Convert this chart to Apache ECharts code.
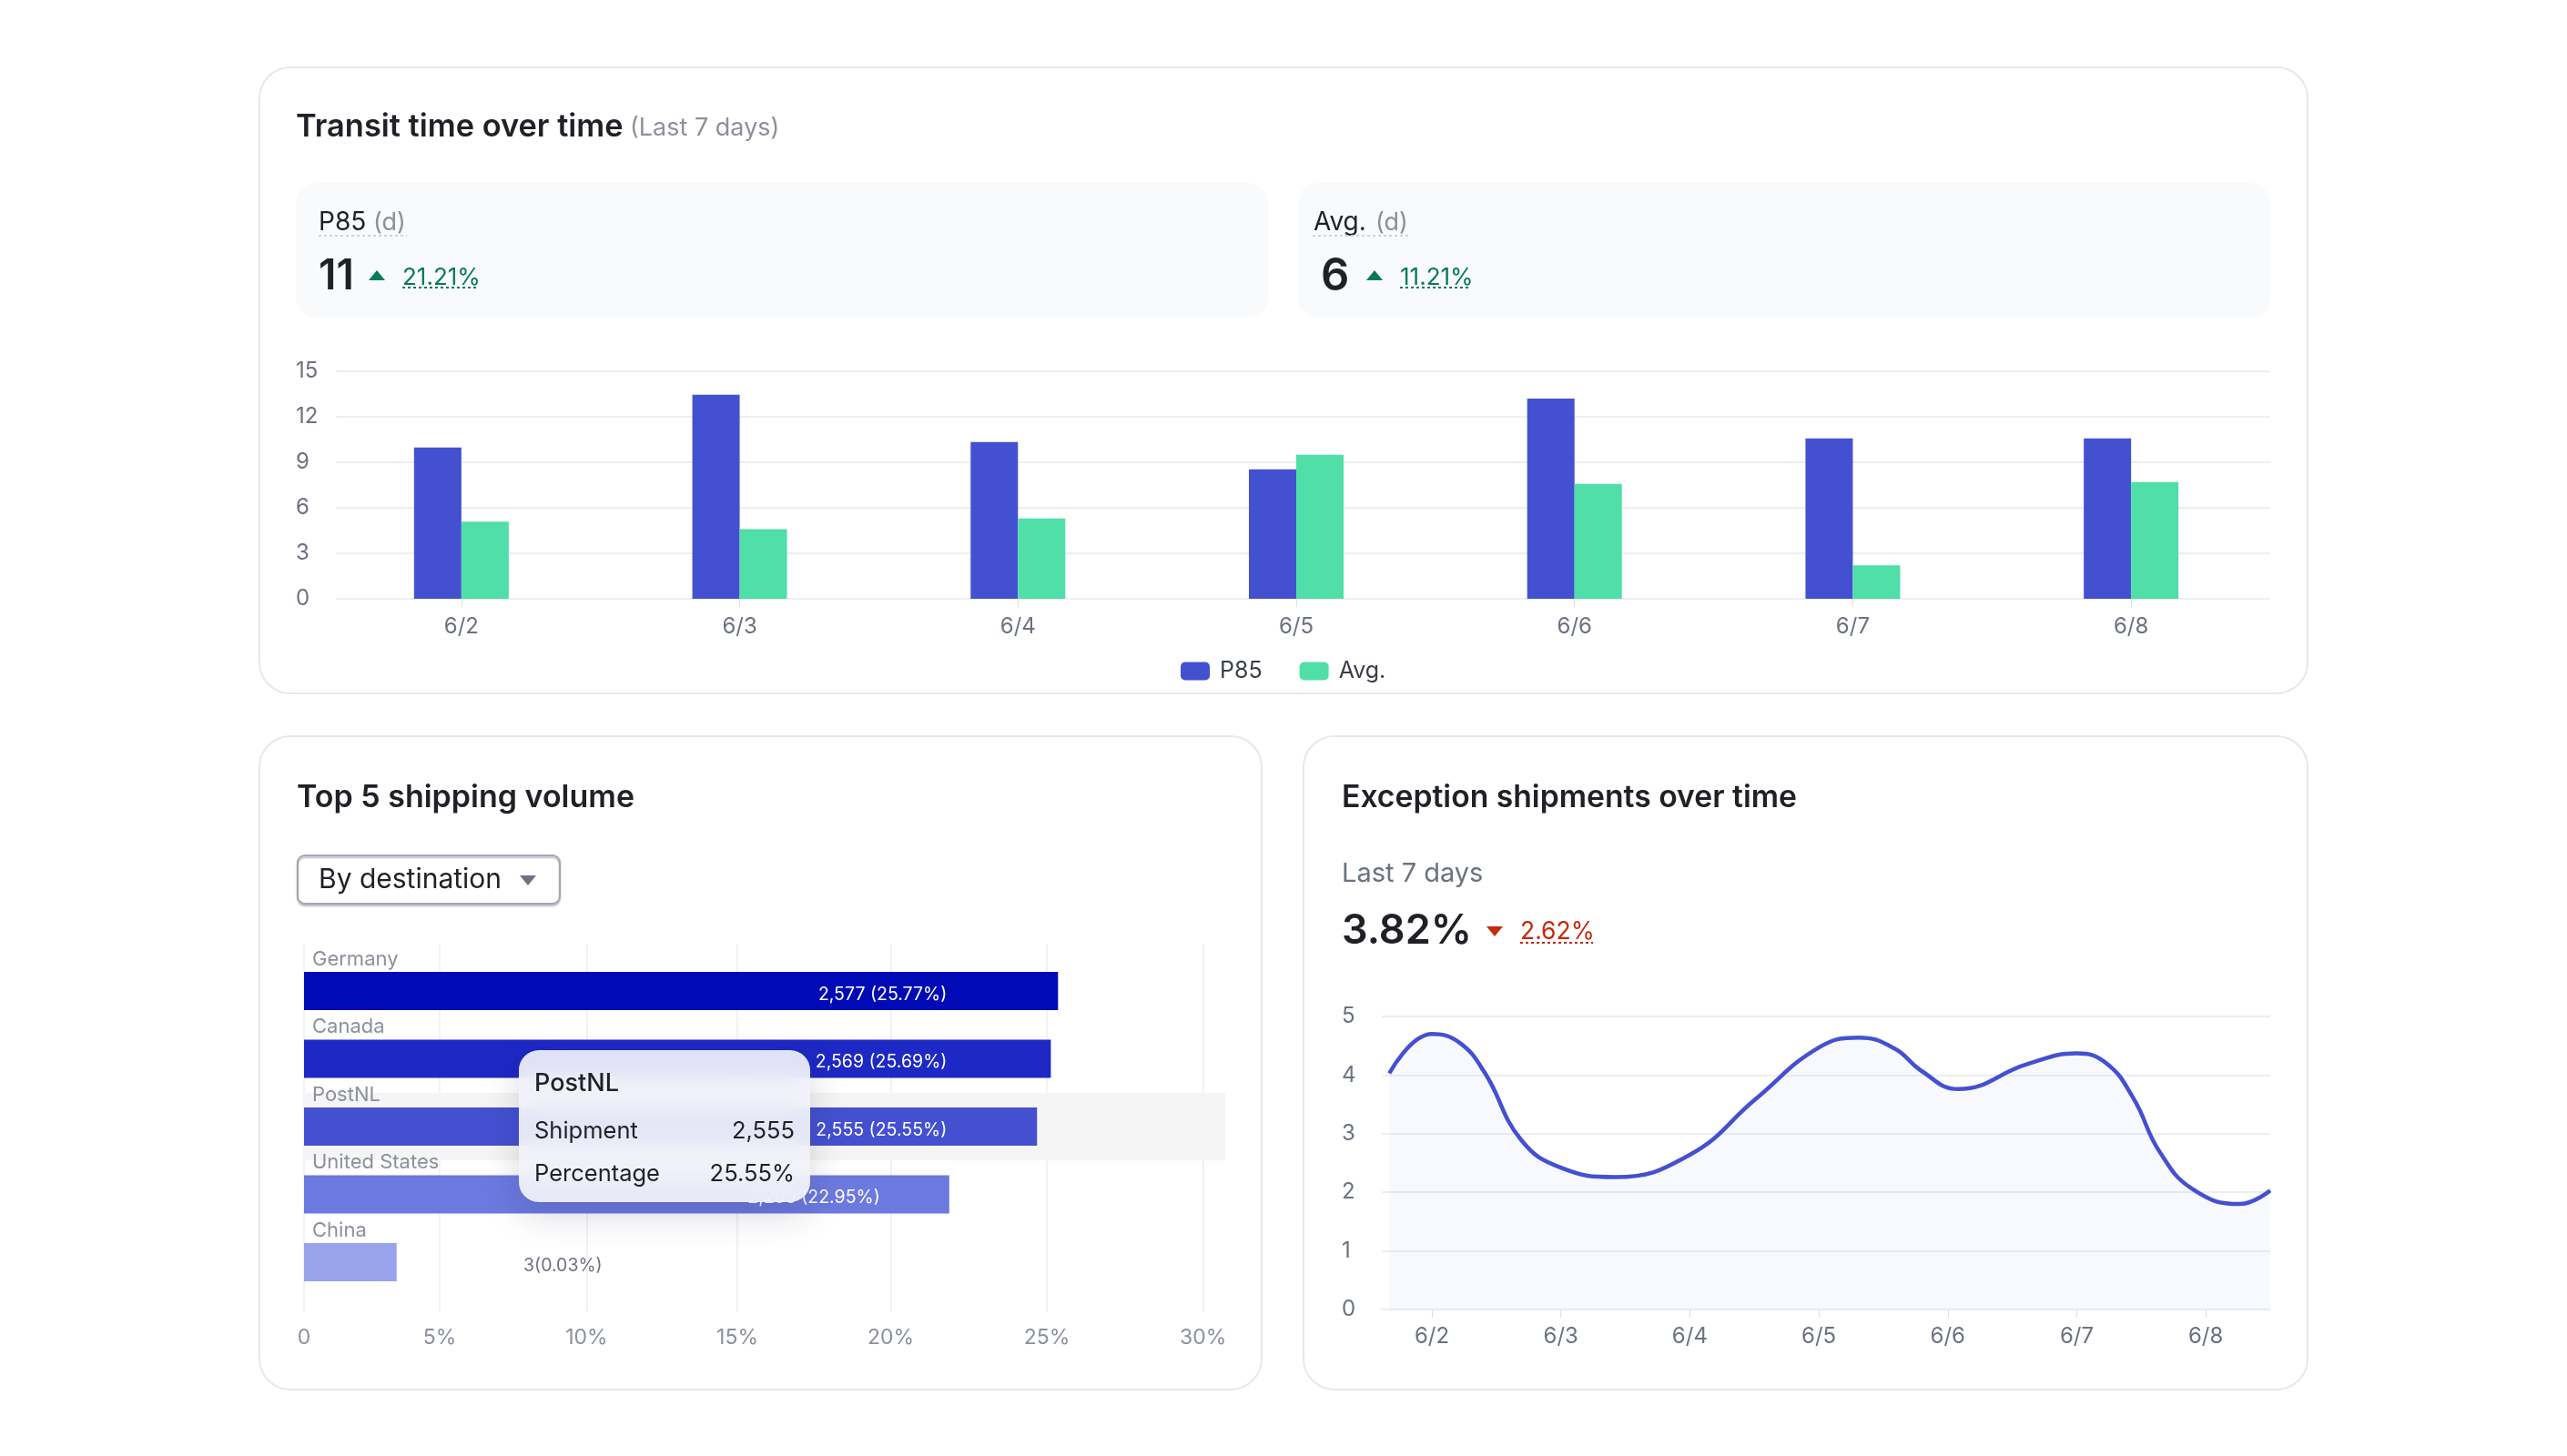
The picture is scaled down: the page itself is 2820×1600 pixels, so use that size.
<!DOCTYPE html>
<html>
<head>
<meta charset="utf-8">
<style>
  html, body { margin: 0; padding: 0; background: #fff; }
  #chart { width: 2820px; height: 1600px; }
</style>
</head>
<body>
<div id="chart"></div>
<script src="https://cdn.jsdelivr.net/npm/echarts@6/dist/echarts.min.js"></script>
<script>
var days = ['6/2', '6/3', '6/4', '6/5', '6/6', '6/7', '6/8'];

// Transit time
var p85Values = [9.97, 13.46, 10.33, 8.54, 13.2, 10.58, 10.58];
var avgValues = [5.08, 4.59, 5.3, 9.5, 7.58, 2.2, 7.69];

// Shipping volume, lengths are as drawn on the axis
var destinations = ['Germany', 'Canada', 'PostNL', 'United States', 'China'];
var barLengths = [25.16, 24.92, 24.46, 21.53, 3.09];
var barLabels = ['2,577 (25.77%)', '2,569 (25.69%)', '2,555 (25.55%)', '2,295 (22.95%)', '3(0.03%)'];
var shipments = ['2,577', '2,569', '2,555', '2,295', '3'];
var percentages = ['25.77%', '25.69%', '25.55%', '22.95%', '0.03%'];
var volumeTicks = [0, 4.53, 9.43, 14.46, 19.58, 24.79, 30];
var volumeTickLabels = ['0', '5%', '10%', '15%', '20%', '25%', '30%'];

// Exception shipments: day of June, rate
var exceptionDays = [1.67, 2, 2.21, 2.41, 2.69, 3, 3.42, 4, 4.51, 5, 5.31, 5.59, 5.79, 6.08, 6.62, 7, 7.23, 7.44, 7.64, 7.9, 8.26, 8.5];
var exceptionRates = [4.03, 4.7, 4.56, 4.04, 2.9, 2.42, 2.26, 2.64, 3.59, 4.47, 4.64, 4.45, 4.08, 3.76, 4.19, 4.37, 4.2, 3.6, 2.7, 2.05, 1.8, 2.03];
var exceptionTicks = [2, 3, 4, 5, 6, 7, 8];

var FONT = 'Inter';
var BLUE = '#4351d0';
var GREEN = '#50dea9';
var GREEN_DARK = '#067a5b';
var RED = '#c42a0c';
var INK = '#1f2126';
var GRAY = '#6b7280';
var SOFT = '#8b909b';
var LINE = '#eceef1';

var barColors = ['#000ab5', '#1e28c4', '#4450d0', '#6c79df', '#98a3ec'];
var barLabelColors = ['#fff', '#fff', '#fff', '#fff', GRAY];
var barLabelOffsets = [-122, -114, -99, -76, 226];

function text(x, y, str, size, fill, weight, align) {
  return {
    type: 'text', x: x, y: y, z: 20,
    style: {
      text: str, fontFamily: FONT, fontSize: size, fontWeight: weight || 400,
      fill: fill, align: align || 'left', verticalAlign: 'middle'
    }
  };
}
function card(x, y, w, h) {
  return {
    type: 'rect', z: -10,
    shape: { x: x, y: y, width: w, height: h, r: 34 },
    style: { fill: '#fff', stroke: '#e6e8ec', lineWidth: 2 }
  };
}
function panel(x, y, w, h) {
  return {
    type: 'rect', z: -9,
    shape: { x: x, y: y, width: w, height: h, r: 22 },
    style: { fill: '#f9fafb' }
  };
}
function dotted(x1, x2, y, color) {
  return {
    type: 'line', z: 20,
    shape: { x1: x1, y1: y, x2: x2, y2: y },
    style: { stroke: color, lineWidth: 2, lineDash: [3, 3] }
  };
}
function triangle(p1, p2, p3, color) {
  return { type: 'polygon', z: 20, shape: { points: [p1, p2, p3] }, style: { fill: color } };
}

var graphics = [
  card(285, 74, 2250, 688),
  card(285, 809, 1101, 718),
  card(1432, 809, 1103, 718),
  panel(325, 201, 1068, 148),
  panel(1426, 201, 1068, 148),

  text(325, 140, 'Transit time over time', 34.4, INK, 600),
  text(692, 141, '(Last 7 days)', 27, SOFT),

  text(350, 245, 'P85', 28, INK),
  text(410, 245, '(d)', 27, SOFT),
  dotted(350, 447, 259, '#cfd2d8'),
  text(350, 304, '11', 46, INK, 600),
  triangle([414, 297], [423, 308], [405, 308], GREEN_DARK),
  text(442, 305, '21.21%', 26, GREEN_DARK),
  dotted(442, 524, 316, GREEN_DARK),

  text(1443, 245, 'Avg.', 28, INK),
  text(1511, 245, '(d)', 27, SOFT),
  dotted(1442, 1550, 259, '#cfd2d8'),
  text(1451, 304, '6', 49, INK, 600),
  triangle([1510, 297], [1519, 308], [1501, 308], GREEN_DARK),
  text(1538, 305, '11.21%', 26, GREEN_DARK),
  dotted(1538, 1613, 316, GREEN_DARK),

  text(326, 877, 'Top 5 shipping volume', 34, INK, 600),
  {
    type: 'rect', z: -5,
    shape: { x: 327, y: 940, width: 288, height: 53, r: 8 },
    style: { fill: '#fff', stroke: '#a3a8b1', lineWidth: 2, shadowBlur: 2, shadowOffsetY: 2, shadowColor: '#b8bcc4' }
  },
  text(350, 967, 'By destination', 30, INK),
  triangle([571, 962], [589, 962], [580, 973], GRAY),

  text(1474, 877, 'Exception shipments over time', 33.7, INK, 600),
  text(1474, 960, 'Last 7 days', 29, GRAY),
  text(1474, 1023, '3.82%', 45, INK, 600),
  triangle([1633, 1018], [1651, 1018], [1642, 1029], RED),
  text(1670, 1024, '2.62%', 26.5, RED),
  dotted(1670, 1750, 1036, RED)
];

var chart = echarts.init(document.getElementById('chart'));

var option = {
  animation: false,
  backgroundColor: '#fff',
  textStyle: { fontFamily: FONT },
  graphic: graphics,
  legend: {
    left: 1292, top: 720, itemWidth: 32, itemHeight: 20, itemGap: 41, icon: 'roundRect',
    data: ['P85', 'Avg.'],
    textStyle: { fontSize: 25, color: '#3a3f47', padding: [0, 0, 0, 6] }
  },
  tooltip: {
    trigger: 'axis',
    triggerOn: 'none',
    alwaysShowContent: true,
    transitionDuration: 0,
    axisPointer: { type: 'shadow', z: 0, shadowStyle: { color: '#f5f5f5', opacity: 1 } },
    position: [570, 1154],
    padding: 0,
    borderWidth: 0,
    backgroundColor: 'transparent',
    extraCssText: 'box-shadow:none;',
    formatter: function (params) {
      var i = params[0].dataIndex;
      return '<div style="width:320px;height:167px;box-sizing:border-box;padding:20px 17px;border-radius:22px;' +
        'background:rgba(244,245,250,.9);backdrop-filter:blur(14px);box-shadow:0 14px 40px rgba(20,24,60,.16);' +
        'font-family:' + FONT + ';color:' + INK + ';font-size:25.5px;line-height:47px;">' +
        '<div style="font-size:27px;font-weight:500;line-height:32px;margin-bottom:12px;">' + destinations[i] + '</div>' +
        '<div style="display:flex;justify-content:space-between;"><span>Shipment</span><span>' + shipments[i] + '</span></div>' +
        '<div style="display:flex;justify-content:space-between;"><span>Percentage</span><span>' + percentages[i] + '</span></div>' +
        '</div>';
    }
  },
  grid: [
    { left: 354, right: 326, top: 408, height: 250 },   // transit bars
    { left: 369, right: 326, top: 408, height: 250 },   // transit gridlines
    { left: 334, width: 1012, top: 1037, height: 405 }, // volume gridlines
    { left: 334, width: 1012, top: 1051.75, height: 372.5 }, // volume bars
    { left: 1518, right: 326, top: 1117, height: 322 }  // exceptions
  ],
  xAxis: [
    {
      gridIndex: 0, type: 'category', data: days,
      axisLine: { show: false },
      axisTick: { show: true, alignWithLabel: true, length: 9, lineStyle: { color: '#dcdfe4' } },
      axisLabel: { color: GRAY, fontSize: 24, margin: 19 }
    },
    { gridIndex: 1, type: 'value', show: false, min: 0, max: 1, splitLine: { show: false } },
    {
      gridIndex: 2, type: 'value', min: 0, max: 30.74,
      axisPointer: { show: false },
      axisLine: { show: false },
      axisTick: { show: false, customValues: volumeTicks },
      axisLabel: {
        customValues: volumeTicks, color: SOFT, fontSize: 23, margin: 17, showMinLabel: true, showMaxLabel: true,
        formatter: function (v) { return volumeTickLabels[volumeTicks.indexOf(v)]; }
      },
      splitLine: { show: true, lineStyle: { color: LINE, width: 1.5 } }
    },
    { gridIndex: 3, type: 'value', show: false, min: 0, max: 30.74, axisPointer: { show: false }, splitLine: { show: false } },
    {
      gridIndex: 4, type: 'value', min: 1.612, max: 8.5,
      axisLine: { show: true, lineStyle: { color: LINE, width: 2 } },
      axisTick: { show: true, customValues: exceptionTicks, length: 9, lineStyle: { color: '#dcdfe4' } },
      axisLabel: {
        customValues: exceptionTicks, color: GRAY, fontSize: 24, margin: 18,
        formatter: function (v) { return days[exceptionTicks.indexOf(v)]; }
      },
      splitLine: { show: false }
    }
  ],
  yAxis: [
    { gridIndex: 0, type: 'value', show: false, min: 0, max: 15, splitLine: { show: false } },
    {
      gridIndex: 1, type: 'value', min: 0, max: 15, interval: 3,
      axisLine: { show: false }, axisTick: { show: false },
      axisLabel: { color: GRAY, fontSize: 24, margin: 44, align: 'left' },
      splitLine: { lineStyle: { color: LINE, width: 2 } }
    },
    { gridIndex: 2, type: 'value', show: false, min: 0, max: 1, axisPointer: { show: false }, splitLine: { show: false } },
    {
      gridIndex: 3, type: 'category', inverse: true, data: destinations,
      axisLine: { show: false }, axisTick: { show: false },
      axisLabel: {
        inside: true, margin: 9, color: SOFT, fontSize: 22,
        verticalAlign: 'bottom', padding: [0, 0, 24, 0]
      }
    },
    {
      gridIndex: 4, type: 'value', min: 0, max: 5, interval: 1,
      axisLine: { show: false }, axisTick: { show: false },
      axisLabel: { color: GRAY, fontSize: 24, margin: 44, align: 'left' },
      splitLine: { lineStyle: { color: LINE, width: 2 } }
    }
  ],
  series: [
    {
      name: 'P85', type: 'bar', xAxisIndex: 0, yAxisIndex: 0, data: p85Values,
      barWidth: 52, barGap: 0, itemStyle: { color: BLUE }, tooltip: { show: false }
    },
    {
      name: 'Avg.', type: 'bar', xAxisIndex: 0, yAxisIndex: 0, data: avgValues,
      barWidth: 52, barGap: 0, itemStyle: { color: GREEN }, tooltip: { show: false }
    },
    {
      name: 'Shipment', type: 'bar', xAxisIndex: 3, yAxisIndex: 3, barWidth: 42,
      emphasis: { disabled: true },
      data: barLengths.map(function (v, i) {
        return {
          value: v,
          itemStyle: { color: barColors[i] },
          label: {
            show: true, position: 'insideRight', distance: 0,
            offset: [barLabelOffsets[i], 4],
            color: barLabelColors[i], fontSize: 19.5,
            formatter: barLabels[i]
          }
        };
      })
    },
    {
      name: 'Exception', type: 'line', xAxisIndex: 4, yAxisIndex: 4,
      data: exceptionDays.map(function (d, i) { return [d, exceptionRates[i]]; }),
      smooth: 0.45, showSymbol: false,
      lineStyle: { color: BLUE, width: 4.5 },
      areaStyle: { color: 'rgba(66,110,235,0.055)' },
      tooltip: { show: false }
    }
  ]
};

chart.setOption(option);
chart.dispatchAction({ type: 'showTip', seriesIndex: 2, dataIndex: 2 });
</script>
</body>
</html>
